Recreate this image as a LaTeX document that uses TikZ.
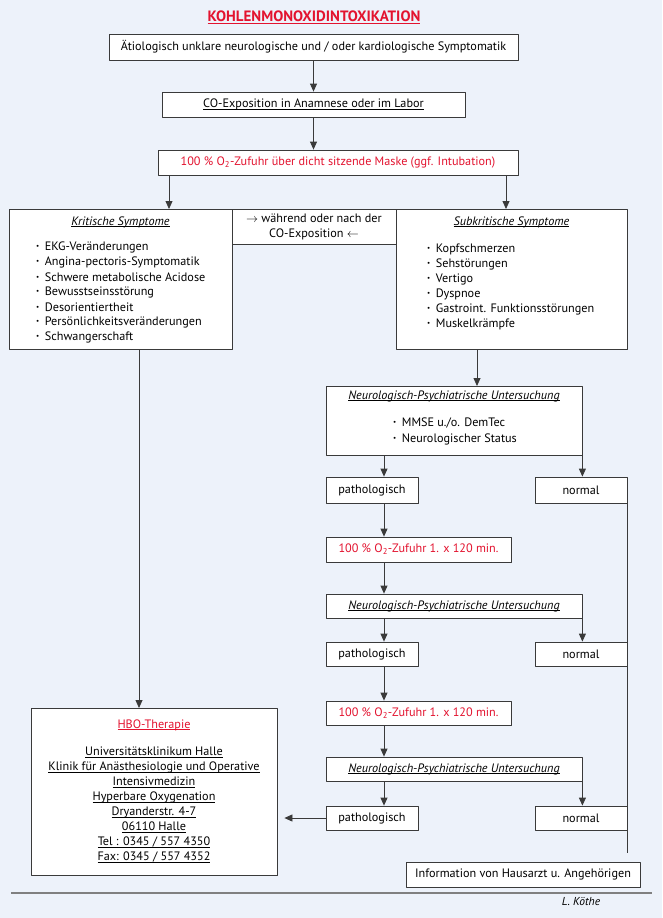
\documentclass[tikz,border=0pt]{standalone}
\usepackage{fontspec}
\setmainfont{PT Sans}
\usepackage{xcolor}
\usepackage{tikz}
\usetikzlibrary{arrows.meta,calc,shadows}

\definecolor{bgblue}{HTML}{EDF2FA}
\definecolor{kored}{HTML}{E3132F}
\definecolor{boxgray}{HTML}{3A3A3A}
\newcommand{\blt}{\raisebox{0.25ex}{\scriptsize\textbullet}\hspace{0.45em}}
\newcommand{\ul}[1]{\underline{\smash{#1}}\vphantom{#1}}

\begin{document}
\begin{tikzpicture}[x=1pt,y=-1pt,>={Triangle[width=7pt,length=8pt]},line join=round,
  font=\fontsize{12.2}{15}\selectfont,
  box/.style={draw=boxgray,fill=white,line width=0.8pt,inner sep=0pt,
    drop shadow={shadow xshift=1pt,shadow yshift=-1pt,fill=gray!55,opacity=1}},
  item/.style={anchor=west,inner sep=0pt},
  ital/.style={font=\fontsize{12.2}{15}\selectfont\itshape},
  conn/.style={->,boxgray,line width=0.8pt}]
  % background and frame
  \fill[bgblue] (0,0) rectangle (662,918);
  \useasboundingbox (0,0) rectangle (662,918);

  \node[text=kored,font=\fontsize{15}{18}\selectfont\bfseries] (title) at (314,17)
    {\ul{KOHLENMONOXIDINTOXIKATION}};

  % top of the chart
  \node[box,minimum width=409pt,minimum height=26pt] (start) at (313.5,47)
    {Ätiologisch unklare neurologische und / oder kardiologische Symptomatik};
  \node[box,minimum width=303pt,minimum height=25pt] (expo) at (313.5,104.5)
    {\ul{CO-Exposition in Anamnese oder im Labor}};
  \node[box,minimum width=360pt,minimum height=25pt,text=kored] (otwo) at (338,162.5)
    {100 \% O\textsubscript{2}-Zufuhr über dicht sitzende Maske (ggf. Intubation)};

  % symptom boxes
  \node[box,minimum width=223pt,minimum height=140pt] (krit) at (120.5,279) {};
  \node[box,minimum width=164pt,minimum height=35pt,align=center] (mid) at (314,226.5)
    {$\rightarrow$ während oder nach der\\CO-Exposition $\leftarrow$};
  \node[box,minimum width=231pt,minimum height=140pt] (sub) at (511.5,279) {};
  \node[ital] (krittitle) at (120.5,222) {\ul{Kritische Symptome}};
  \node[ital] (subtitle) at (511.5,222) {\ul{Subkritische Symptome}};
  \foreach \t [count=\i] in {EKG-Veränderungen,Angina-pectoris-Symptomatik,
      Schwere metabolische Acidose,Bewusstseinsstörung,Desorientiertheit,
      Persönlichkeitsveränderungen,Schwangerschaft}
    \node[item] (kr\i) at (36,232+15*\i) {\blt\t};
  \foreach \t [count=\i] in {Kopfschmerzen,Sehstörungen,Vertigo,Dyspnoe,
      Gastroint. Funktionsstörungen,Muskelkrämpfe}
    \node[item] (sk\i) at (427,234+15*\i) {\blt\t};

  % right column
  \node[box,minimum width=256pt,minimum height=69pt] (neu1) at (454,420.5) {};
  \node[ital] (neutitle) at (454,396) {\ul{Neurologisch-Psychiatrische Untersuchung}};
  \node[item] (nt1) at (393,423) {\blt MMSE u./o. DemTec};
  \node[item] (nt2) at (393,439) {\blt Neurologischer Status};

  \node[box,minimum width=92pt,minimum height=26pt] (pat1) at (372,490) {pathologisch};
  \node[box,minimum width=92pt,minimum height=26pt] (nor1) at (581,490) {normal};
  \node[box,minimum width=185pt,minimum height=25pt,text=kored] (ot1) at (418.5,549.5)
    {100 \% O\textsubscript{2}-Zufuhr 1. x 120 min.};
  \node[box,ital,minimum width=256pt,minimum height=24pt] (neu2) at (454,606)
    {\ul{Neurologisch-Psychiatrische Untersuchung}};
  \node[box,minimum width=92pt,minimum height=24pt] (pat2) at (372,654) {pathologisch};
  \node[box,minimum width=92pt,minimum height=24pt] (nor2) at (581,654) {normal};
  \node[box,minimum width=185pt,minimum height=24pt,text=kored] (ot2) at (418.5,713)
    {100 \% O\textsubscript{2}-Zufuhr 1. x 120 min.};
  \node[box,ital,minimum width=256pt,minimum height=24pt] (neu3) at (454,769)
    {\ul{Neurologisch-Psychiatrische Untersuchung}};
  \node[box,minimum width=92pt,minimum height=24pt] (pat3) at (372,818) {pathologisch};
  \node[box,minimum width=92pt,minimum height=24pt] (nor3) at (581,818) {normal};

  % HBO box
  \node[box,minimum width=246pt,minimum height=167pt] (hbo) at (154,791.5) {};
  \node[text=kored] (hbotitle) at (154,725) {\ul{HBO-Therapie}};
  \node[align=center,inner sep=0pt] (hboaddr) at (154,804.5)
    {\ul{Universitätsklinikum Halle}\\
     \ul{Klinik für Anästhesiologie und Operative}\\
     \ul{Intensivmedizin}\\
     \ul{Hyperbare Oxygenation}\\
     \ul{Dryanderstr. 4-7}\\
     \ul{06110 Halle}\\
     \ul{Tel : 0345 / 557 4350}\\
     \ul{Fax: 0345 / 557 4352}};

  \node[box,minimum width=234pt,minimum height=25pt] (info) at (523,874.5)
    {Information von Hausarzt u. Angehörigen};

  % free ends of connectors
  \coordinate (kin) at (169,209);
  \coordinate (sin) at (506,209);
  \coordinate (hin) at (139,708);
  \coordinate (nin) at (477,386);
  \coordinate (col) at (384,0);
  \coordinate (lend) at (627,853);

  \draw[conn] (start) -- (expo);
  \draw[conn] (expo.south) -- (expo.south |- otwo.north);
  \draw[conn] (otwo.south -| kin) -- (kin);
  \draw[conn] (otwo.south -| sin) -- (sin);
  \draw[conn] (krit.south -| hin) -- (hin);
  \draw[conn] (sub.south -| nin) -- (nin);
  \draw[conn] (neu1.south -| col) -- (pat1.north -| col);
  \draw[conn] (pat1.south -| col) -- (ot1.north -| col);
  \draw[conn] (ot1.south -| col) -- (neu2.north -| col);
  \draw[conn] (neu2.south -| col) -- (pat2.north -| col);
  \draw[conn] (pat2.south -| col) -- (ot2.north -| col);
  \draw[conn] (ot2.south -| col) -- (neu3.north -| col);
  \draw[conn] (neu3.south -| col) -- (pat3.north -| col);
  \draw[conn] (neu1.south east) -- (neu1.south east |- nor1.north);
  \draw[conn] (neu2.south east) -- (neu2.south east |- nor2.north);
  \draw[conn] (neu3.south east) -- (neu3.south east |- nor3.north);
  \draw[conn,shorten >=7pt] (pat3.west) -- (pat3.west -| hbo.east);
  \draw[boxgray,line width=0.8pt] (nor1.south east) -- (nor1.south east |- lend);

  % footer
  \coordinate (rulel) at (11,893);
  \coordinate (ruler) at (652,893);
  \draw[gray,line width=1.6pt] (rulel) -- (ruler);
  \node[font=\fontsize{11.5}{13}\selectfont\itshape] (author) at (581,902) {L. Köthe};
\end{tikzpicture}
\end{document}
